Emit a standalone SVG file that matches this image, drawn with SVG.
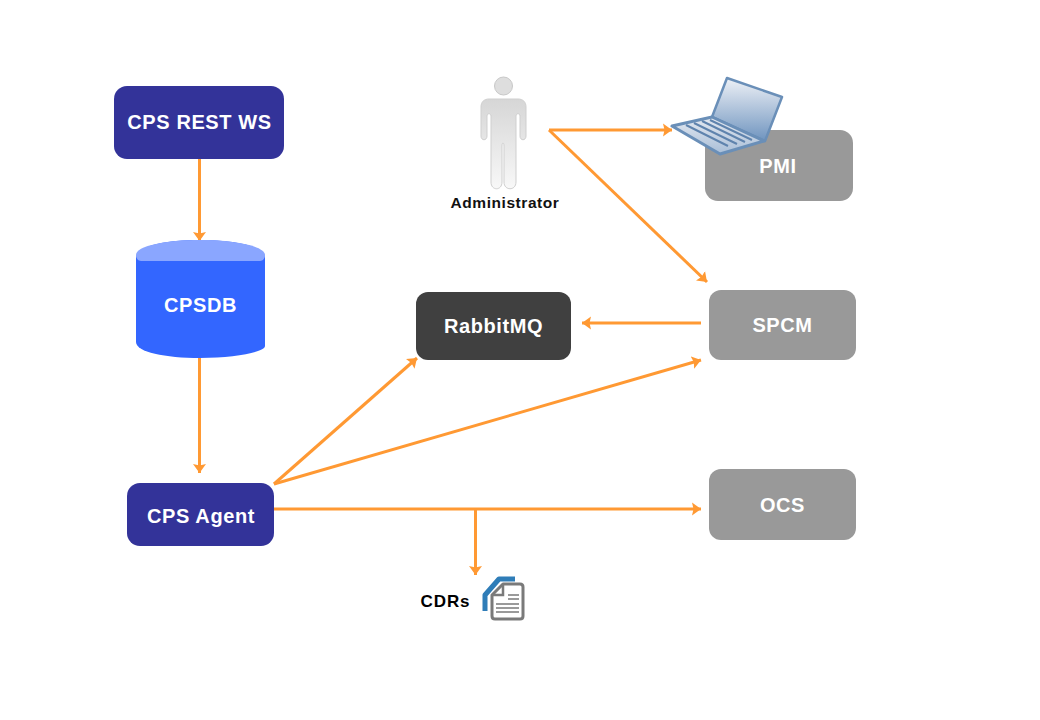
<svg xmlns="http://www.w3.org/2000/svg" width="1040" height="720" viewBox="0 0 1040 720">
<style>
text{font-family:"Liberation Sans",Arial,sans-serif;font-weight:bold;text-anchor:middle}
.l{font-size:20px;fill:#fff;letter-spacing:.6px}
.k{fill:none;stroke:#ff9933;stroke-width:3;marker-end:url(#a)}
.g{fill:#999}.n{fill:#333399}
</style>
<defs>
<marker id="a" markerUnits="userSpaceOnUse" markerWidth="12" markerHeight="14" refX="9" refY="7" orient="auto"><path d="M0 .5L9 7L0 13.500L1.500 7z" fill="#ff9933"/></marker>
<linearGradient id="p" x1="0" y1="0" x2="0" y2="1"><stop offset="0" stop-color="#d6d6d6"/><stop offset="1" stop-color="#f8f8f8"/></linearGradient>
<linearGradient id="s" x1="0" y1="0" x2="0" y2="1"><stop offset="0" stop-color="#eef1f6"/><stop offset="1" stop-color="#6f94bf"/></linearGradient>
<linearGradient id="b" x1="0" y1="0" x2="0" y2="1"><stop offset="0" stop-color="#e4e9f1"/><stop offset="1" stop-color="#a9bed7"/></linearGradient>
</defs>
<rect width="1040" height="720" fill="#fff"/>
<g id="connectors">
<path class="k" d="M199.500 159V241"/>
<path class="k" d="M199.500 358V473"/>
<path class="k" d="M549 130H672"/>
<path class="k" d="M549 130L707 282"/>
<path class="k" d="M701 323H582"/>
<path class="k" d="M274 484L417 358"/>
<path class="k" d="M274 484L701 360"/>
<path class="k" d="M274 509H701"/>
<path class="k" d="M475.500 509V575"/>
</g>
<g id="rest"><rect class="n" x="114" y="86" width="170" height="73" rx="13"/><text class="l" x="199.500" y="129">CPS REST WS</text></g>
<g id="cpsdb"><path d="M136 258C136 246 165 240 200 240S265 246 265 258V346C265 352 235 358 200 358S136 352 136 342z" fill="#3366ff"/><path d="M136 255C136 246 165 240 200 240S265 246 265 255C265 258 263 261 260 261H141C138 261 136 258 136 255z" fill="#8aa6ff"/><text class="l" x="200.500" y="312">CPSDB</text></g>
<g id="agent"><rect class="n" x="127" y="483" width="147" height="63" rx="13"/><text class="l" x="201" y="523">CPS Agent</text></g>
<g id="rabbit"><rect x="416" y="292" width="155" height="68" rx="12" fill="#404040"/><text class="l" x="493.500" y="333">RabbitMQ</text></g>
<g id="pmi"><rect class="g" x="705" y="130" width="148" height="71" rx="13"/><text class="l" x="778" y="173">PMI</text></g>
<g id="spcm"><rect class="g" x="709" y="290" width="147" height="70" rx="12"/><text class="l" x="782.500" y="332">SPCM</text></g>
<g id="ocs"><rect class="g" x="709" y="469" width="147" height="71" rx="12"/><text class="l" x="782.500" y="512">OCS</text></g>
<g id="admin">
<circle cx="503.500" cy="86" r="9" fill="#dedede" stroke="#c8c8c8"/>
<path d="M489 99H518C523 99 526 102 526 107V136C526 141 520 141 520 136V116C520 113 516 113 516 116V182C516 191 504 191 504 182V146C504 142 502 142 502 146V182C502 191 491 191 491 182V116C491 113 487 113 487 116V136C487 141 481 141 481 136V107C481 102 484 99 489 99z" fill="url(#p)" stroke="#cfcfcf"/>
<text x="505" y="208" font-size="15.500" fill="#111" letter-spacing=".55">Administrator</text>
</g>
<g id="laptop">
<path d="M727 78L782 97L765 141L712 117z" fill="url(#s)" stroke="#6a8fb8" stroke-width="2.500" stroke-linejoin="round"/>
<path d="M672 126L712 117L764 141L720 154z" fill="url(#b)" stroke="#6a8fb8" stroke-width="3" stroke-linejoin="round"/>
<path d="M686 125L728 146M694 123L737 144M702 121L745 142M710 120L752 140" stroke="#5f83ad" stroke-width="2" fill="none"/>
</g>
<g id="cdrs">
<text x="445.500" y="607" font-size="17" fill="#000" letter-spacing=".9">CDRs</text>
<path d="M485 611V595L499 579H515" fill="none" stroke="#2f7db8" stroke-width="5" stroke-linejoin="round"/>
<path d="M503 584H520Q523 584 523 587V616Q523 619 520 619H495Q492 619 492 616V595z" fill="#fff" stroke="#7a7a7a" stroke-width="3" stroke-linejoin="round"/>
<path d="M503 584V595H492" fill="none" stroke="#7a7a7a" stroke-width="2.500"/>
<path d="M508 595H519M508 599H519M496 604H519M496 608H519M496 612H519" stroke="#7a7a7a" stroke-width="1.500"/>
</g>
</svg>
